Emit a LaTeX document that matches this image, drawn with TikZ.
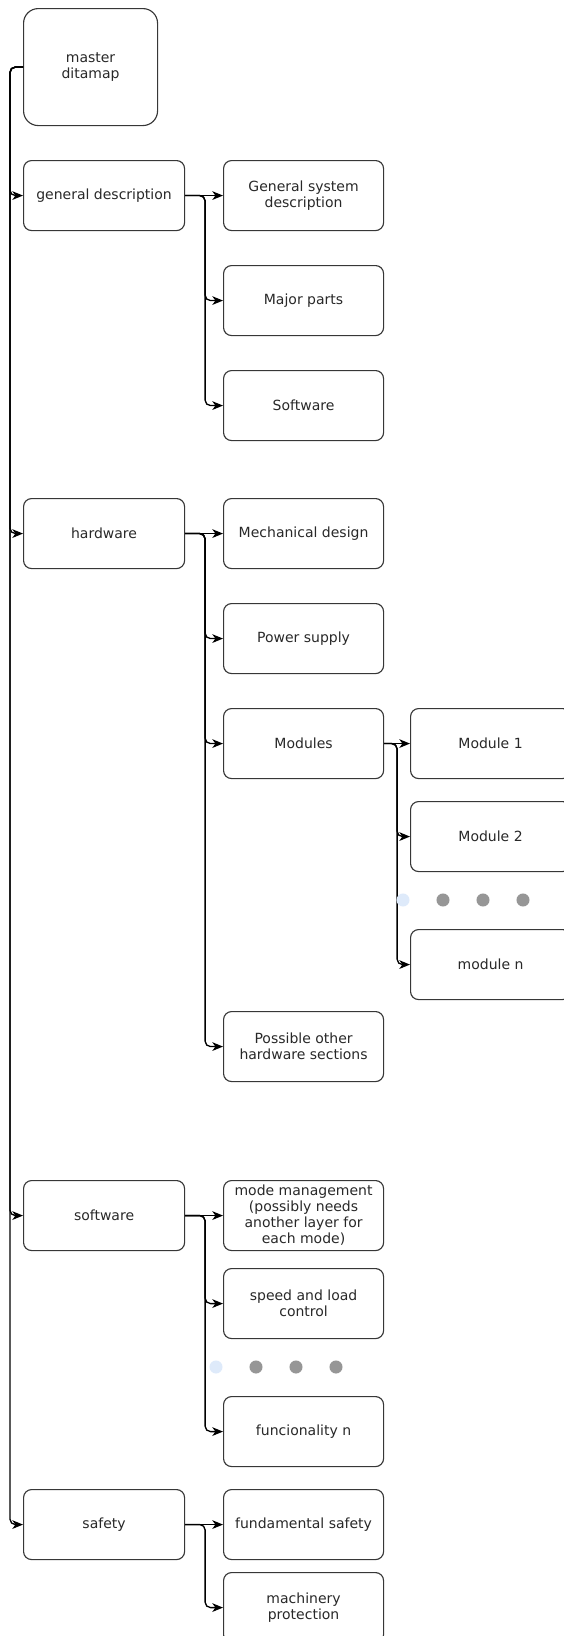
\documentclass[tikz,border=0pt]{standalone}
\usepackage{fontspec}
\setmainfont{DejaVu Sans}
\usetikzlibrary{arrows.meta}
\usetikzlibrary{positioning}
\definecolor{BoxGray}{RGB}{55,55,55}
\definecolor{TextGray}{RGB}{40,40,40}
\definecolor{DotGray}{RGB}{150,150,150}
\definecolor{DotBlue}{RGB}{222,234,250}
\tikzset{
	box/.style={draw=BoxGray, line width=0.85pt, rounded corners=6pt, align=center, inner sep=1pt,
		minimum width=120pt, minimum height=52.5pt, text=TextGray,
		font=\fontsize{10.5}{12}\selectfont, anchor=north west},
	topbox/.style={box, minimum width=120.75pt},
	link/.style={draw=black, line width=1pt, rounded corners=4pt,
		-{Stealth[length=8pt,width=6.5pt,inset=2.3pt]}},
	dot/.style={fill=DotGray},
	dot1/.style={fill=DotBlue}
}

\begin{document}
\begin{tikzpicture}[x=0.75pt, y=-0.75pt]
		\path[use as bounding box, clip] (0,0) rectangle (564,1636);
		\node[box, minimum width=100.5pt, minimum height=87.75pt, rounded corners=11pt] (master) at (23,8) {master\\ditamap};
		\node[topbox] (gd) at (23,160) {general description};
		\node[topbox] (hw) at (23,498) {hardware};
		\node[topbox] (sw) at (23,1180) {software};
		\node[topbox] (sf) at (23,1489) {safety};
		\node[box] (gsd) at (223,160) {General system\\description};
		\node[box] (mp) at (223,265) {Major parts};
		\node[box] (swd) at (223,370) {Software};
		\node[box] (mech) at (223,498) {Mechanical design};
		\node[box] (pwr) at (223,603) {Power supply};
		\node[box] (mods) at (223,708) {Modules};
		\node[box] (other) at (223,1011) {Possible other\\hardware sections};
		\node[box] (mod1) at (410,708) {Module 1};
		\node[box] (mod2) at (410,801) {Module 2};
		\node[box] (modn) at (410,929) {module n};
		\node[box] (mode) at (223,1180) {mode management\\(possibly needs\\another layer for\\each mode)};
		\node[box] (speed) at (223,1268) {speed and load\\control};
		\node[box] (funcn) at (223,1396) {funcionality n};
		\node[box] (fund) at (223,1489) {fundamental safety};
		\node[box] (mach) at (223,1572) {machinery\\protection};
		\foreach \n in {gd,hw,sw,sf}
			\draw[link] (master.west) -- ++(-13,0) |- (\n.west);
		\draw[link] (gd.east) -- (gsd.west);
		\foreach \n in {mp,swd}
			\draw[link] (gd.east) -- ++(20,0) |- (\n.west);
		\draw[link] (hw.east) -- (mech.west);
		\foreach \n in {pwr,mods,other}
			\draw[link] (hw.east) -- ++(20,0) |- (\n.west);
		\draw[link] (mods.east) -- (mod1.west);
		\foreach \n in {mod2,modn}
			\draw[link] (mods.east) -- ++(13,0) |- (\n.west);
		\draw[link] (sw.east) -- (mode.west);
		\foreach \n in {speed,funcn}
			\draw[link] (sw.east) -- ++(20,0) |- (\n.west);
		\draw[link] (sf.east) -- (fund.west);
		\draw[link] (sf.east) -- ++(20,0) |- (mach.west);
		\fill[dot1] (403,900) circle[radius=4.9pt];
		\foreach \x in {443,483,523}
			\fill[dot] (\x,900) circle[radius=4.9pt];
		\fill[dot1] (216,1367) circle[radius=4.9pt];
		\foreach \x in {256,296,336}
			\fill[dot] (\x,1367) circle[radius=4.9pt];
	\end{tikzpicture}
\end{document}
